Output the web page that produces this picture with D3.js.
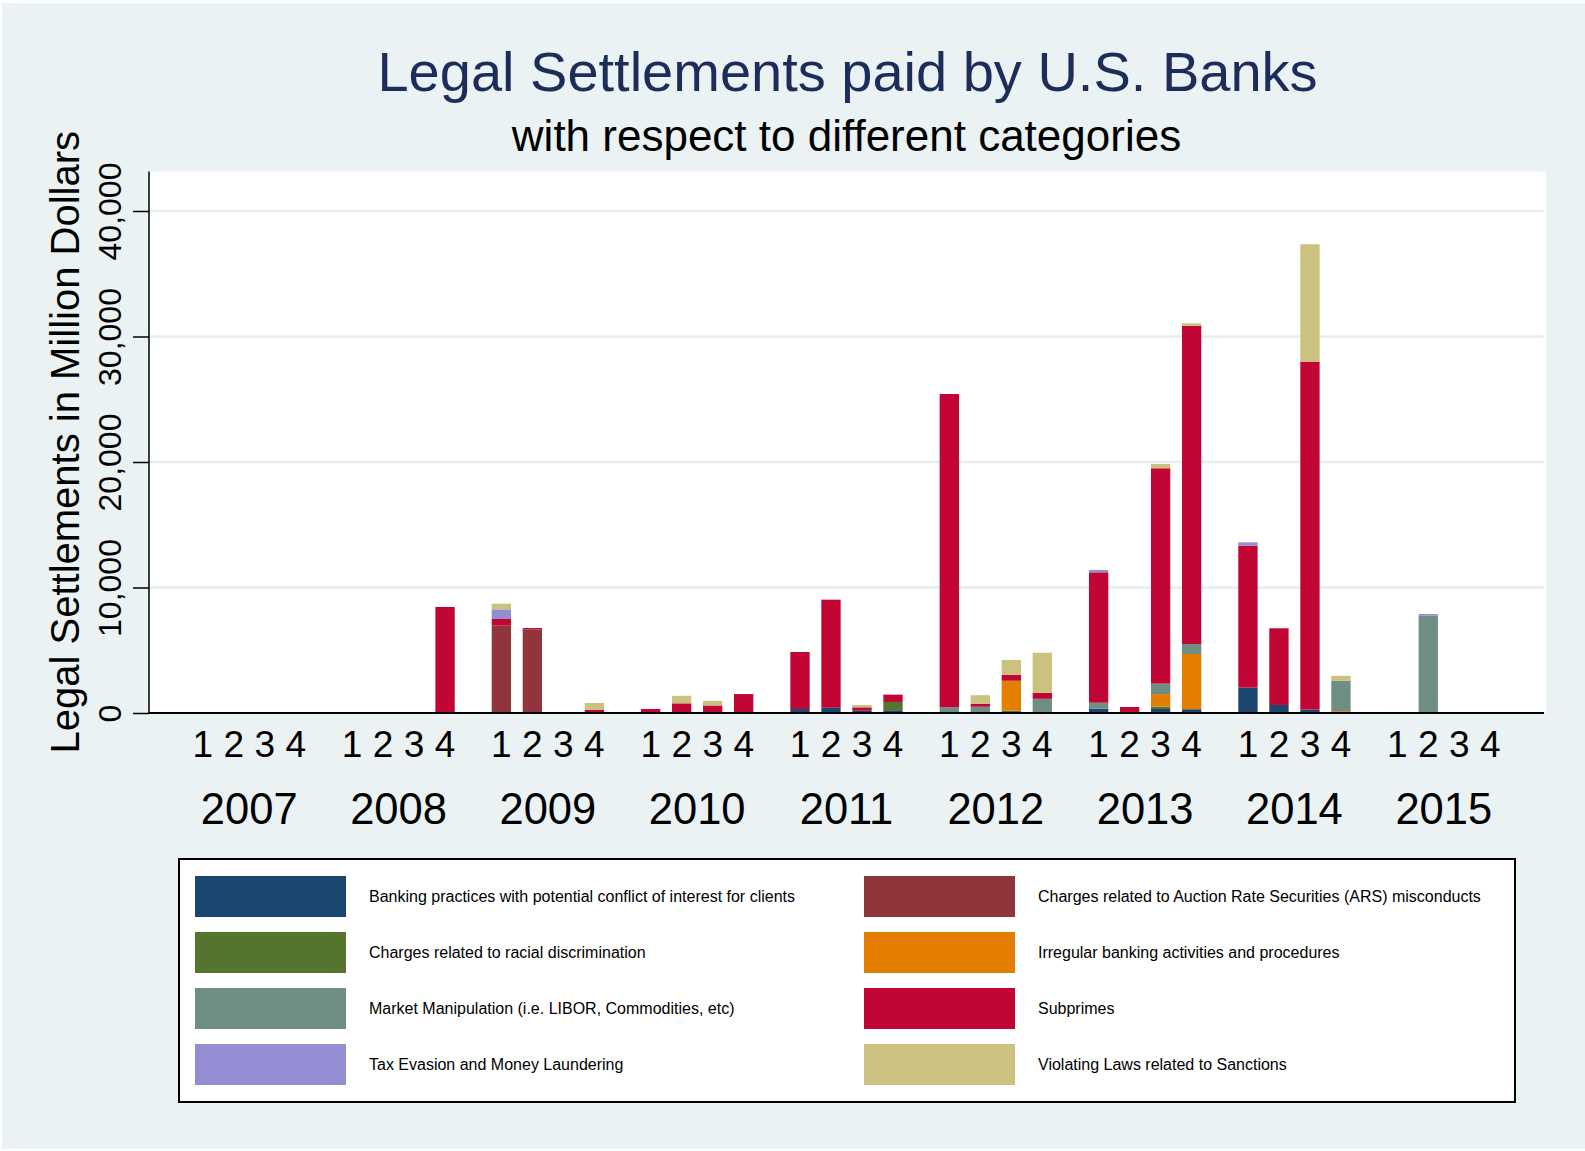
<!DOCTYPE html>
<html>
<head>
<meta charset="utf-8">
<script src="https://cdn.jsdelivr.net/npm/d3@7"></script>
<style>
  html, body { margin: 0; padding: 0; background: #ffffff; }
  svg { display: block; font-family: "Liberation Sans", Arial, Helvetica, sans-serif; }
</style>
</head>
<body>
<svg id="chart" width="1585" height="1151"></svg>
<script>
// ---------------- DATA ----------------
const years = ["2007", "2008", "2009", "2010", "2011", "2012", "2013", "2014", "2015"];
const quarters = ["1", "2", "3", "4"];
const yTicks = [0, 10000, 20000, 30000, 40000];

const categories = [
  "Banking practices with potential conflict of interest for clients",
  "Charges related to Auction Rate Securities (ARS) misconducts",
  "Charges related to racial discrimination",
  "Irregular banking activities and procedures",
  "Market Manipulation (i.e. LIBOR, Commodities, etc)",
  "Subprimes",
  "Tax Evasion and Money Laundering",
  "Violating Laws related to Sanctions"
];
const colors = ["#1a476f", "#90353b", "#55752f", "#e37e00", "#6e8e84", "#c10534", "#938dd2", "#cac27e"];

// values in million dollars, one per quarter: 2007Q1 ... 2015Q4 (36 values)
const banking     = [0, 0, 0, 0,  0, 0, 0, 0,     0, 0, 0, 0,        0, 0, 0, 0,          320, 420, 180, 220,    0, 0, 0, 0,              350, 0, 320, 300,          2020, 640, 270, 0,      0, 0, 0, 0];
const ars         = [0, 0, 0, 0,  0, 0, 0, 0,     6960, 6670, 0, 0,  0, 0, 0, 0,          0, 0, 0, 0,            0, 0, 0, 0,              0, 0, 0, 0,                0, 0, 0, 0,             0, 0, 0, 0];
const racial      = [0, 0, 0, 0,  0, 0, 0, 0,     0, 0, 0, 0,        0, 0, 0, 0,          0, 0, 0, 660,          0, 0, 190, 0,            0, 0, 180, 0,              0, 0, 0, 0,             0, 0, 0, 0];
const irregular   = [0, 0, 0, 0,  0, 0, 0, 0,     0, 0, 0, 0,        0, 0, 0, 0,          0, 0, 0, 0,            0, 0, 2380, 0,           0, 0, 1010, 4400,          0, 0, 0, 150,           0, 0, 0, 0];
const market      = [0, 0, 0, 0,  0, 0, 0, 0,     0, 0, 0, 0,        0, 0, 0, 0,          0, 0, 0, 0,            460, 500, 0, 1130,       470, 0, 830, 800,          0, 0, 0, 2430,          0, 7750, 0, 0];
const subprimes   = [0, 0, 0, 0,  0, 0, 0, 8450,  530, 100, 0, 240,  320, 770, 600, 1510, 4540, 8610, 270, 580,  24960, 230, 470, 470,    10390, 480, 17160, 25360,  11310, 6110, 27730, 0,   80, 0, 0, 0];
const taxEvasion  = [0, 0, 0, 0,  0, 0, 0, 0,     770, 0, 0, 0,      0, 0, 0, 0,          0, 0, 0, 0,            0, 0, 0, 0,              190, 0, 0, 0,              270, 0, 0, 0,           0, 140, 0, 0];
const sanctions   = [0, 0, 0, 0,  0, 0, 0, 0,     450, 0, 0, 560,    0, 600, 370, 0,      0, 0, 190, 0,          0, 690, 1190, 3200,      0, 0, 340, 190,            0, 0, 9350, 380,        0, 0, 0, 0];

const seriesValues = [banking, ars, racial, irregular, market, subprimes, taxEvasion, sanctions];

// ---------------- BUILD TABLE ----------------
const table = [];
years.forEach((yr, yi) => {
  quarters.forEach((q, qi) => {
    const row = { year: yr, quarter: q };
    categories.forEach((c, ci) => { row[c] = seriesValues[ci][yi * 4 + qi]; });
    table.push(row);
  });
});

// ---------------- LAYOUT ----------------
const svg = d3.select("#chart");
const W = 1585, H = 1151;
const plotLeft = 149, plotRight = 1544, plotTop = 171.5, plotBottom = 713;

// outer background
svg.append("rect").attr("x", 2).attr("y", 3).attr("width", W - 2).attr("height", H - 5).attr("fill", "#eaf2f3");

// plot region
svg.append("rect").attr("x", plotLeft).attr("y", plotTop)
  .attr("width", plotRight + 2 - plotLeft).attr("height", plotBottom - plotTop).attr("fill", "#ffffff");

const x0 = d3.scaleBand().domain(years).range([plotLeft, plotRight]).paddingInner(0.1695).paddingOuter(0.256);
const x1 = d3.scaleBand().domain(quarters).range([0, x0.bandwidth()]).paddingInner(0.377).paddingOuter(0.1885);
const y = d3.scaleLinear().domain([0, 40000]).range([plotBottom, 211]);

// gridlines
svg.append("g").selectAll("line").data(yTicks.filter(t => t > 0)).join("line")
  .attr("x1", plotLeft).attr("x2", plotRight)
  .attr("y1", d => y(d)).attr("y2", d => y(d))
  .attr("stroke", "#e6eef0").attr("stroke-width", 2.5);

// stacked bars
const stack = d3.stack().keys(categories);
const stacked = stack(table);
const barsG = svg.append("g");
stacked.forEach((layer, li) => {
  barsG.append("g").attr("fill", colors[li])
    .selectAll("rect").data(layer.filter(d => d[1] - d[0] > 0)).join("rect")
    .attr("x", d => x0(d.data.year) + x1(d.data.quarter))
    .attr("width", x1.bandwidth())
    .attr("y", d => y(d[1]))
    .attr("height", d => y(d[0]) - y(d[1]));
});

// y axis
const yAxis = d3.axisLeft(y).tickValues(yTicks).tickFormat(d3.format(",")).tickSize(16).tickSizeOuter(0);
const yAxisG = svg.append("g").attr("transform", `translate(${plotLeft},0)`).call(yAxis);
yAxisG.select(".domain").remove();
yAxisG.selectAll(".tick line").attr("stroke", "#000").attr("stroke-width", 1.5);
yAxisG.selectAll(".tick text")
  .attr("transform", "rotate(-90)")
  .attr("x", 0).attr("y", -28).attr("dy", 0)
  .attr("text-anchor", "middle")
  .attr("font-size", 32).attr("fill", "#000")
  .attr("font-family", "Liberation Sans, Arial, sans-serif");

// axis lines
svg.append("line").attr("x1", plotLeft).attr("x2", plotLeft).attr("y1", plotTop).attr("y2", plotBottom)
  .attr("stroke", "#000").attr("stroke-width", 1.5);
svg.append("line").attr("x1", plotLeft - 1).attr("x2", plotRight).attr("y1", plotBottom).attr("y2", plotBottom)
  .attr("stroke", "#000").attr("stroke-width", 2.2);

// x labels: quarters
const qLabG = svg.append("g").attr("font-size", 37).attr("text-anchor", "middle").attr("fill", "#000");
years.forEach(yr => {
  quarters.forEach(q => {
    qLabG.append("text")
      .attr("x", x0(yr) + x1(q) + x1.bandwidth() / 2)
      .attr("y", 757)
      .text(q);
  });
});
// x labels: years
svg.append("g").attr("font-size", 43.5).attr("text-anchor", "middle").attr("fill", "#000")
  .selectAll("text").data(years).join("text")
  .attr("x", d => x0(d) + x0.bandwidth() / 2)
  .attr("y", 824)
  .text(d => d);

// y axis title
svg.append("text")
  .attr("transform", `translate(78.5,${(plotTop + plotBottom) / 2}) rotate(-90)`)
  .attr("text-anchor", "middle").attr("font-size", 40).attr("fill", "#000")
  .text("Legal Settlements in Million Dollars");

// titles
svg.append("text").attr("x", 847.5).attr("y", 91).attr("text-anchor", "middle")
  .attr("font-size", 56).attr("fill", "#1c2c5b")
  .text("Legal Settlements paid by U.S. Banks");
svg.append("text").attr("x", 846.5).attr("y", 151).attr("text-anchor", "middle")
  .attr("font-size", 44).attr("fill", "#000")
  .text("with respect to different categories");

// legend
const legX = 179, legY = 859, legW = 1336, legH = 243;
svg.append("rect").attr("x", legX).attr("y", legY).attr("width", legW).attr("height", legH)
  .attr("fill", "#ffffff").attr("stroke", "#000").attr("stroke-width", 2);
const legG = svg.append("g");
const colSwatchX = [195, 864];
const colTextX = [369, 1038];
categories.forEach((c, i) => {
  const col = i % 2, row = Math.floor(i / 2);
  const sy = 876 + row * 56;
  legG.append("rect").attr("x", colSwatchX[col]).attr("y", sy).attr("width", 151).attr("height", 41)
    .attr("fill", colors[i]);
  legG.append("text").attr("x", colTextX[col]).attr("y", sy + 20.5).attr("dy", "0.35em")
    .attr("font-size", 16).attr("fill", "#000").text(c);
});
</script>
</body>
</html>
